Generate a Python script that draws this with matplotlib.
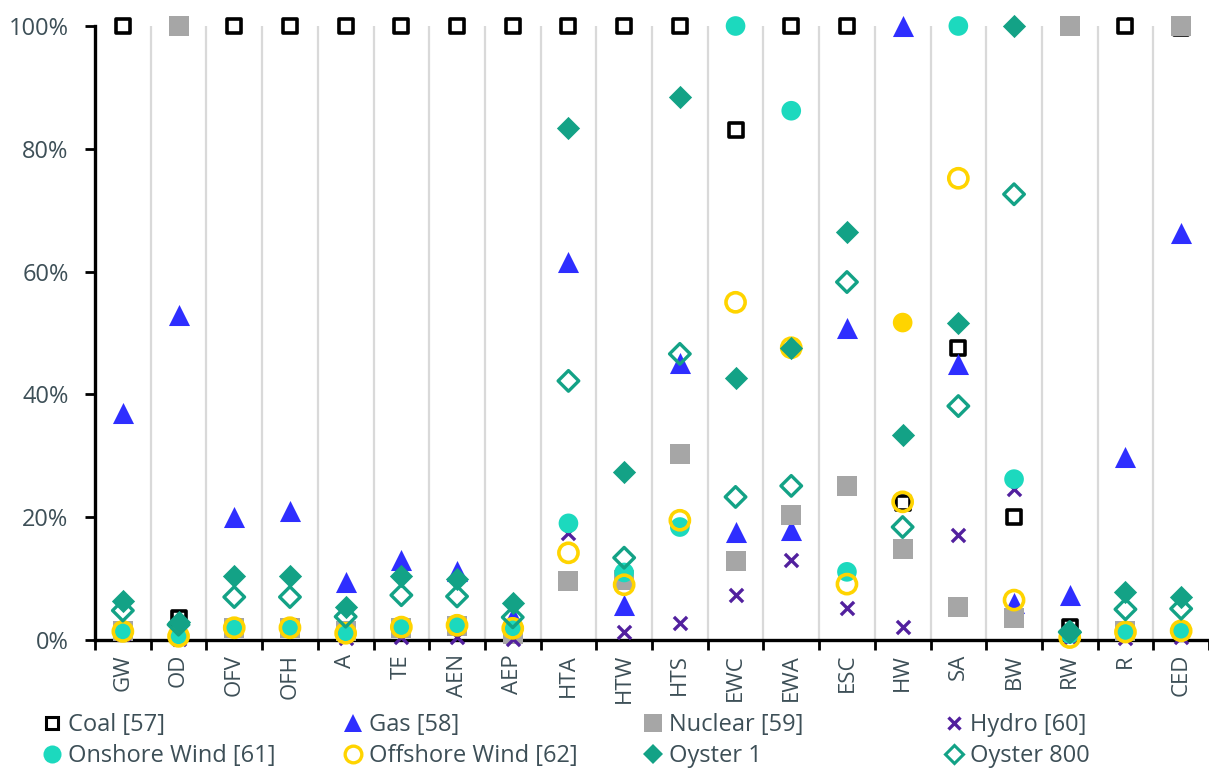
import numpy as np
import matplotlib.pyplot as plt
from matplotlib.lines import Line2D

plt.rcParams['font.family'] = ['Open Sans', 'DejaVu Sans']

# Share of each technology's value relative to the largest one, per indicator (%)
categories = ["GW", "OD", "OFV", "OFH", "A", "TE", "AEN", "AEP", "HTA", "HTW",
              "HTS", "EWC", "EWA", "ESC", "HW", "SA", "BW", "RW", "R", "CED"]

coal = [100, 3.6, 100, 100, 100, 100, 100, 100, 100, 100,
        100, 83, 100, 100, 22.3, 47.5, 20, 2.1, 100, 99.6]
gas = [37, 53, 20, 21, 9.4, 13.1, 11.3, 3.8, 61.6, 5.7,
       45.1, 17.6, 17.9, 50.8, 100, 45, 6, 7.3, 29.8, 66.3]
nuclear = [1.5, 100, 2, 2, 1.5, 2, 2.2, 1, 9.6, 9.8,
           30.3, 12.9, 20.4, 25.1, 14.8, 5.4, 3.6, 100, 1.5, 100]
hydro = [1, 0.2, 2.5, 2.5, 0.3, 0.5, 0.5, 0.2, 17.5, 1.3,
         2.8, 7.3, 13, 5.2, 2.1, 17.1, 24.6, 0.3, 0.3, 0.5]
onshore = [1.4, 0.8, 2, 2, 1.1, 2.1, 2.4, 1.9, 19, 11,
           18.4, 100, 86.2, 11.1, 51.7, 100, 26.2, 1, 1.3, 1.5]
offshore = [1.4, 0.6, 2, 2, 1.1, 2.1, 2.4, 1.9, 14.2, 9,
            19.5, 55, 47.6, 9.1, 22.5, 75.2, 6.5, 0.4, 1.3, 1.5]
oyster_1 = [6.4, 2.9, 10.4, 10.5, 5.4, 10.4, 10, 6, 83.4, 27.4,
            88.4, 42.6, 47.6, 66.4, 33.4, 51.6, 100, 1.3, 7.8, 7]
oyster_800 = [4.8, 2.5, 7, 7, 3.8, 7.3, 7.1, 3.7, 42.2, 13.4,
              46.6, 23.3, 25.1, 58.3, 18.4, 38.1, 72.6, 1.3, 5, 5.1]

# Onshore wind point at HW is highlighted in gold
onshore_colors = ['#1cd9be'] * len(categories)
onshore_colors[categories.index("HW")] = '#ffd400'

text_col = '#3d4f57'
x = np.arange(len(categories))

fig = plt.figure(figsize=(12.09, 7.72), dpi=100)
ax = fig.add_axes([95 / 1209, 1 - 640 / 772, 1 - 95 / 1209, (640 - 26) / 772])

series = [
    ("Coal [57]", coal, dict(marker='s', s=100, facecolors='white', edgecolors='black', linewidths=2.6)),
    ("Gas [58]", gas, dict(marker='^', s=230, color='#2e2eff', linewidths=0)),
    ("Nuclear [59]", nuclear, dict(marker='s', s=190, color='#a6a6a6', linewidths=0)),
    ("Hydro [60]", hydro, dict(marker='x', s=90, color='#52209e', linewidths=2.4)),
    ("Onshore Wind [61]", onshore, dict(marker='o', s=200, c=onshore_colors, linewidths=0)),
    ("Offshore Wind [62]", offshore, dict(marker='o', s=190, facecolors='none', edgecolors='#ffd400', linewidths=2.6)),
    ("Oyster 1", oyster_1, dict(marker='D', s=140, color='#13a286', linewidths=0)),
    ("Oyster 800", oyster_800, dict(marker='D', s=110, facecolors='none', edgecolors='#13a286', linewidths=2.4)),
]

for z, (name, vals, style) in enumerate(series):
    ax.scatter(x, vals, clip_on=False, zorder=3 + z, **style)

ax.set_xlim(-0.5, len(categories) - 0.5)
ax.set_ylim(0, 100)

# category separators
for b in np.arange(0.5, len(categories) - 0.5, 1):
    ax.axvline(b, color='#d9d9d9', lw=1.6, zorder=1)

ax.set_yticks(np.arange(0, 101, 20))
ax.set_yticklabels([f"{v}%" for v in range(0, 101, 20)])
ax.set_xticks(x)
ax.set_xticklabels(categories, rotation=90)
ax.set_xticks(np.arange(-0.5, len(categories), 1), minor=True)
ax.tick_params(axis='x', which='major', length=0, pad=10, labelsize=16, labelcolor=text_col)
ax.tick_params(axis='x', which='minor', length=7, width=2, direction='out', color='black')
ax.tick_params(axis='y', length=7, width=2, direction='out', color='black', pad=12,
               labelsize=17, labelcolor=text_col)

for s in ['top', 'right']:
    ax.spines[s].set_visible(False)
for s in ['left', 'bottom']:
    ax.spines[s].set_linewidth(2.4)
    ax.spines[s].set_zorder(2)

# legend handles
legend_styles = [
    dict(marker='s', markerfacecolor='white', markeredgecolor='black', markeredgewidth=2.2, markersize=9),
    dict(marker='^', color='#2e2eff', markersize=13, markeredgewidth=0),
    dict(marker='s', color='#a6a6a6', markersize=13, markeredgewidth=0),
    dict(marker='x', color='#52209e', markersize=9, markeredgewidth=2.4),
    dict(marker='o', color='#1cd9be', markersize=13, markeredgewidth=0),
    dict(marker='o', markerfacecolor='none', markeredgecolor='#ffd400', markeredgewidth=2.4, markersize=12),
    dict(marker='D', color='#13a286', markersize=10, markeredgewidth=0),
    dict(marker='D', markerfacecolor='white', markeredgecolor='#13a286', markeredgewidth=2.2, markersize=9),
]
handles = [Line2D([], [], linestyle='none', label=name, **st)
           for (name, _, _), st in zip(series, legend_styles)]

# one two-row legend per column, columns evenly spaced
col_x = [43, 344, 644, 945]
for i, cx in enumerate(col_x):
    pair = [handles[i], handles[i + 4]]
    leg = fig.legend(pair, [h.get_label() for h in pair], loc='upper left',
                     bbox_to_anchor=(cx / 1209, 1 - 713 / 772), frameon=False,
                     fontsize=17, handlelength=0.8, handletextpad=0.25,
                     labelspacing=0.3, borderpad=0, borderaxespad=0)
    for t in leg.get_texts():
        t.set_color(text_col)

fig.savefig("out.png", dpi=100)
